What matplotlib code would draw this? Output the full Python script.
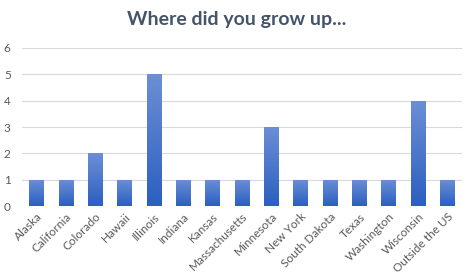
import numpy as np
import matplotlib
matplotlib.use('Agg')
import matplotlib.pyplot as plt
from matplotlib.colors import LinearSegmentedColormap

# data
places = ['Alaska', 'California', 'Colorado', 'Hawaii', 'Illinois', 'Indiana',
          'Kansas', 'Massachusetts', 'Minnesota', 'New York', 'South Dakota',
          'Texas', 'Washington', 'Wisconsin', 'Outside the US']
counts = [1, 1, 2, 1, 5, 1, 1, 1, 3, 1, 1, 1, 1, 4, 1]
y_ticks = [0, 1, 2, 3, 4, 5, 6]

plt.rcParams['font.family'] = ['Lato', 'DejaVu Sans']

fig = plt.figure(figsize=(4.65, 2.77), dpi=100)
ax = fig.add_axes([0.047, 0.256, 0.947, 0.571])

x = np.arange(len(places))
bars = ax.bar(x, counts, width=0.5, color='none', zorder=3)

# gradient fill, lighter at the top of each bar
cmap = LinearSegmentedColormap.from_list('grad', ['#2c5fc0', '#6c8fd6'])
grad = np.linspace(0, 1, 256).reshape(-1, 1)
for b in bars:
    x0, y0 = b.get_x(), b.get_y()
    w, h = b.get_width(), b.get_height()
    im = ax.imshow(grad, cmap=cmap, origin='lower', aspect='auto',
                   extent=[x0, x0 + w, y0, y0 + h], zorder=3)
    im.set_clip_path(b)

ax.set_xlim(-0.5, len(places) - 0.5)
ax.set_ylim(0, 6)
ax.set_yticks(y_ticks)
ax.yaxis.grid(True, color='#d9d9d9', linewidth=0.8, zorder=0)
ax.set_axisbelow(True)
for s in ax.spines.values():
    s.set_visible(False)
ax.tick_params(length=0, colors='#595959', labelsize=8.5)
ax.tick_params(axis='y', pad=8)
ax.set_xticks(x)
ax.set_xticklabels(places, rotation=45, ha='right', rotation_mode='anchor')

fig.suptitle('Where did you grow up...', x=0.51, y=0.96, fontsize=14,
             fontweight='bold', color='#44546a')

fig.savefig('out.png', dpi=100)
